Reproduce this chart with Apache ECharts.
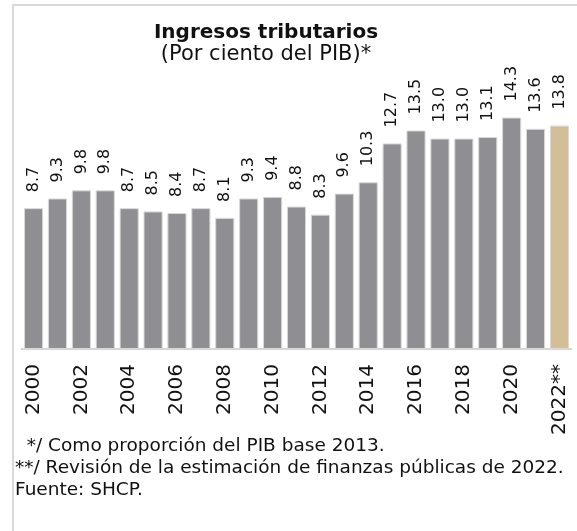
<!DOCTYPE html>
<html>
<head>
<meta charset="utf-8">
<script src="https://cdn.jsdelivr.net/npm/echarts@6/dist/echarts.min.js"></script>
<style>
  html, body { margin: 0; padding: 0; background: #fff; }
  #chart { width: 577px; height: 531px; }
</style>
</head>
<body>
<div id="chart"></div>
<script>
// datos
const years = ['2000', '2001', '2002', '2003', '2004', '2005', '2006', '2007', '2008', '2009', '2010', '2011',
  '2012', '2013', '2014', '2015', '2016', '2017', '2018', '2019', '2020', '2021', '2022**']
const values = [8.7, 9.3, 9.8, 9.8, 8.7, 8.5, 8.4, 8.7, 8.1, 9.3, 9.4, 8.8,
  8.3, 9.6, 10.3, 12.7, 13.5, 13.0, 13.0, 13.1, 14.3, 13.6, 13.8]
const notes = [
  '  */ Como proporción del PIB base 2013.',
  '**/ Revisión de la estimación de finanzas públicas de 2022.',
  'Fuente: SHCP.'
]

const font = 'DejaVu Sans'
const grey = '#8f8e93'
const gold = '#d4be98'

let myChart = echarts.init(document.getElementById('chart'))
myChart.setOption({
  animation: false,
  textStyle: { fontFamily: font },
  title: {
    text: 'Ingresos tributarios',
    subtext: '(Por ciento del PIB)*',
    left: 261,
    textAlign: 'center',
    top: 18,
    itemGap: 1,
    textStyle: { fontFamily: font, fontSize: 20, fontWeight: 'bold', color: '#111' },
    subtextStyle: { fontFamily: font, fontSize: 21, color: '#111' }
  },
  grid: {
    left: 21.6,
    right: 5.6,
    top: 90,
    bottom: 182
  },
  xAxis: {
    type: 'category',
    data: years,
    axisLine: { lineStyle: { color: '#d6d6d6', width: 2 } },
    axisTick: { show: false },
    axisLabel: {
      interval: 1,
      rotate: 90,
      margin: 15,
      fontSize: 20,
      color: '#111',
      fontFamily: font
    }
  },
  yAxis: {
    type: 'value',
    min: 0,
    max: 16,
    show: false,
    splitLine: { show: false }
  },
  series: [
    {
      type: 'bar',
      barCategoryGap: '20%',
      data: values.map((v, i) => ({
        value: v,
        itemStyle: { color: i === values.length - 1 ? gold : grey }
      })),
      itemStyle: { borderColor: '#d9d9d9', borderWidth: 1 },
      label: {
        show: true,
        position: 'top',
        rotate: 90,
        align: 'left',
        verticalAlign: 'middle',
        distance: 16,
        fontSize: 16,
        color: '#111',
        fontFamily: font,
        formatter: p => p.value.toFixed(1)
      }
    }
  ],
  graphic: [
    { type: 'line', shape: { x1: 13, y1: 5, x2: 577, y2: 5 }, style: { stroke: '#d9d9d9', lineWidth: 2 } },
    { type: 'line', shape: { x1: 13, y1: 4, x2: 13, y2: 531 }, style: { stroke: '#d9d9d9', lineWidth: 2 } },
    {
      type: 'text',
      left: 15,
      top: 435,
      style: {
        text: notes.join('\n'),
        font: '18.5px ' + font,
        lineHeight: 22,
        fill: '#111'
      }
    }
  ]
})
</script>
</body>
</html>
